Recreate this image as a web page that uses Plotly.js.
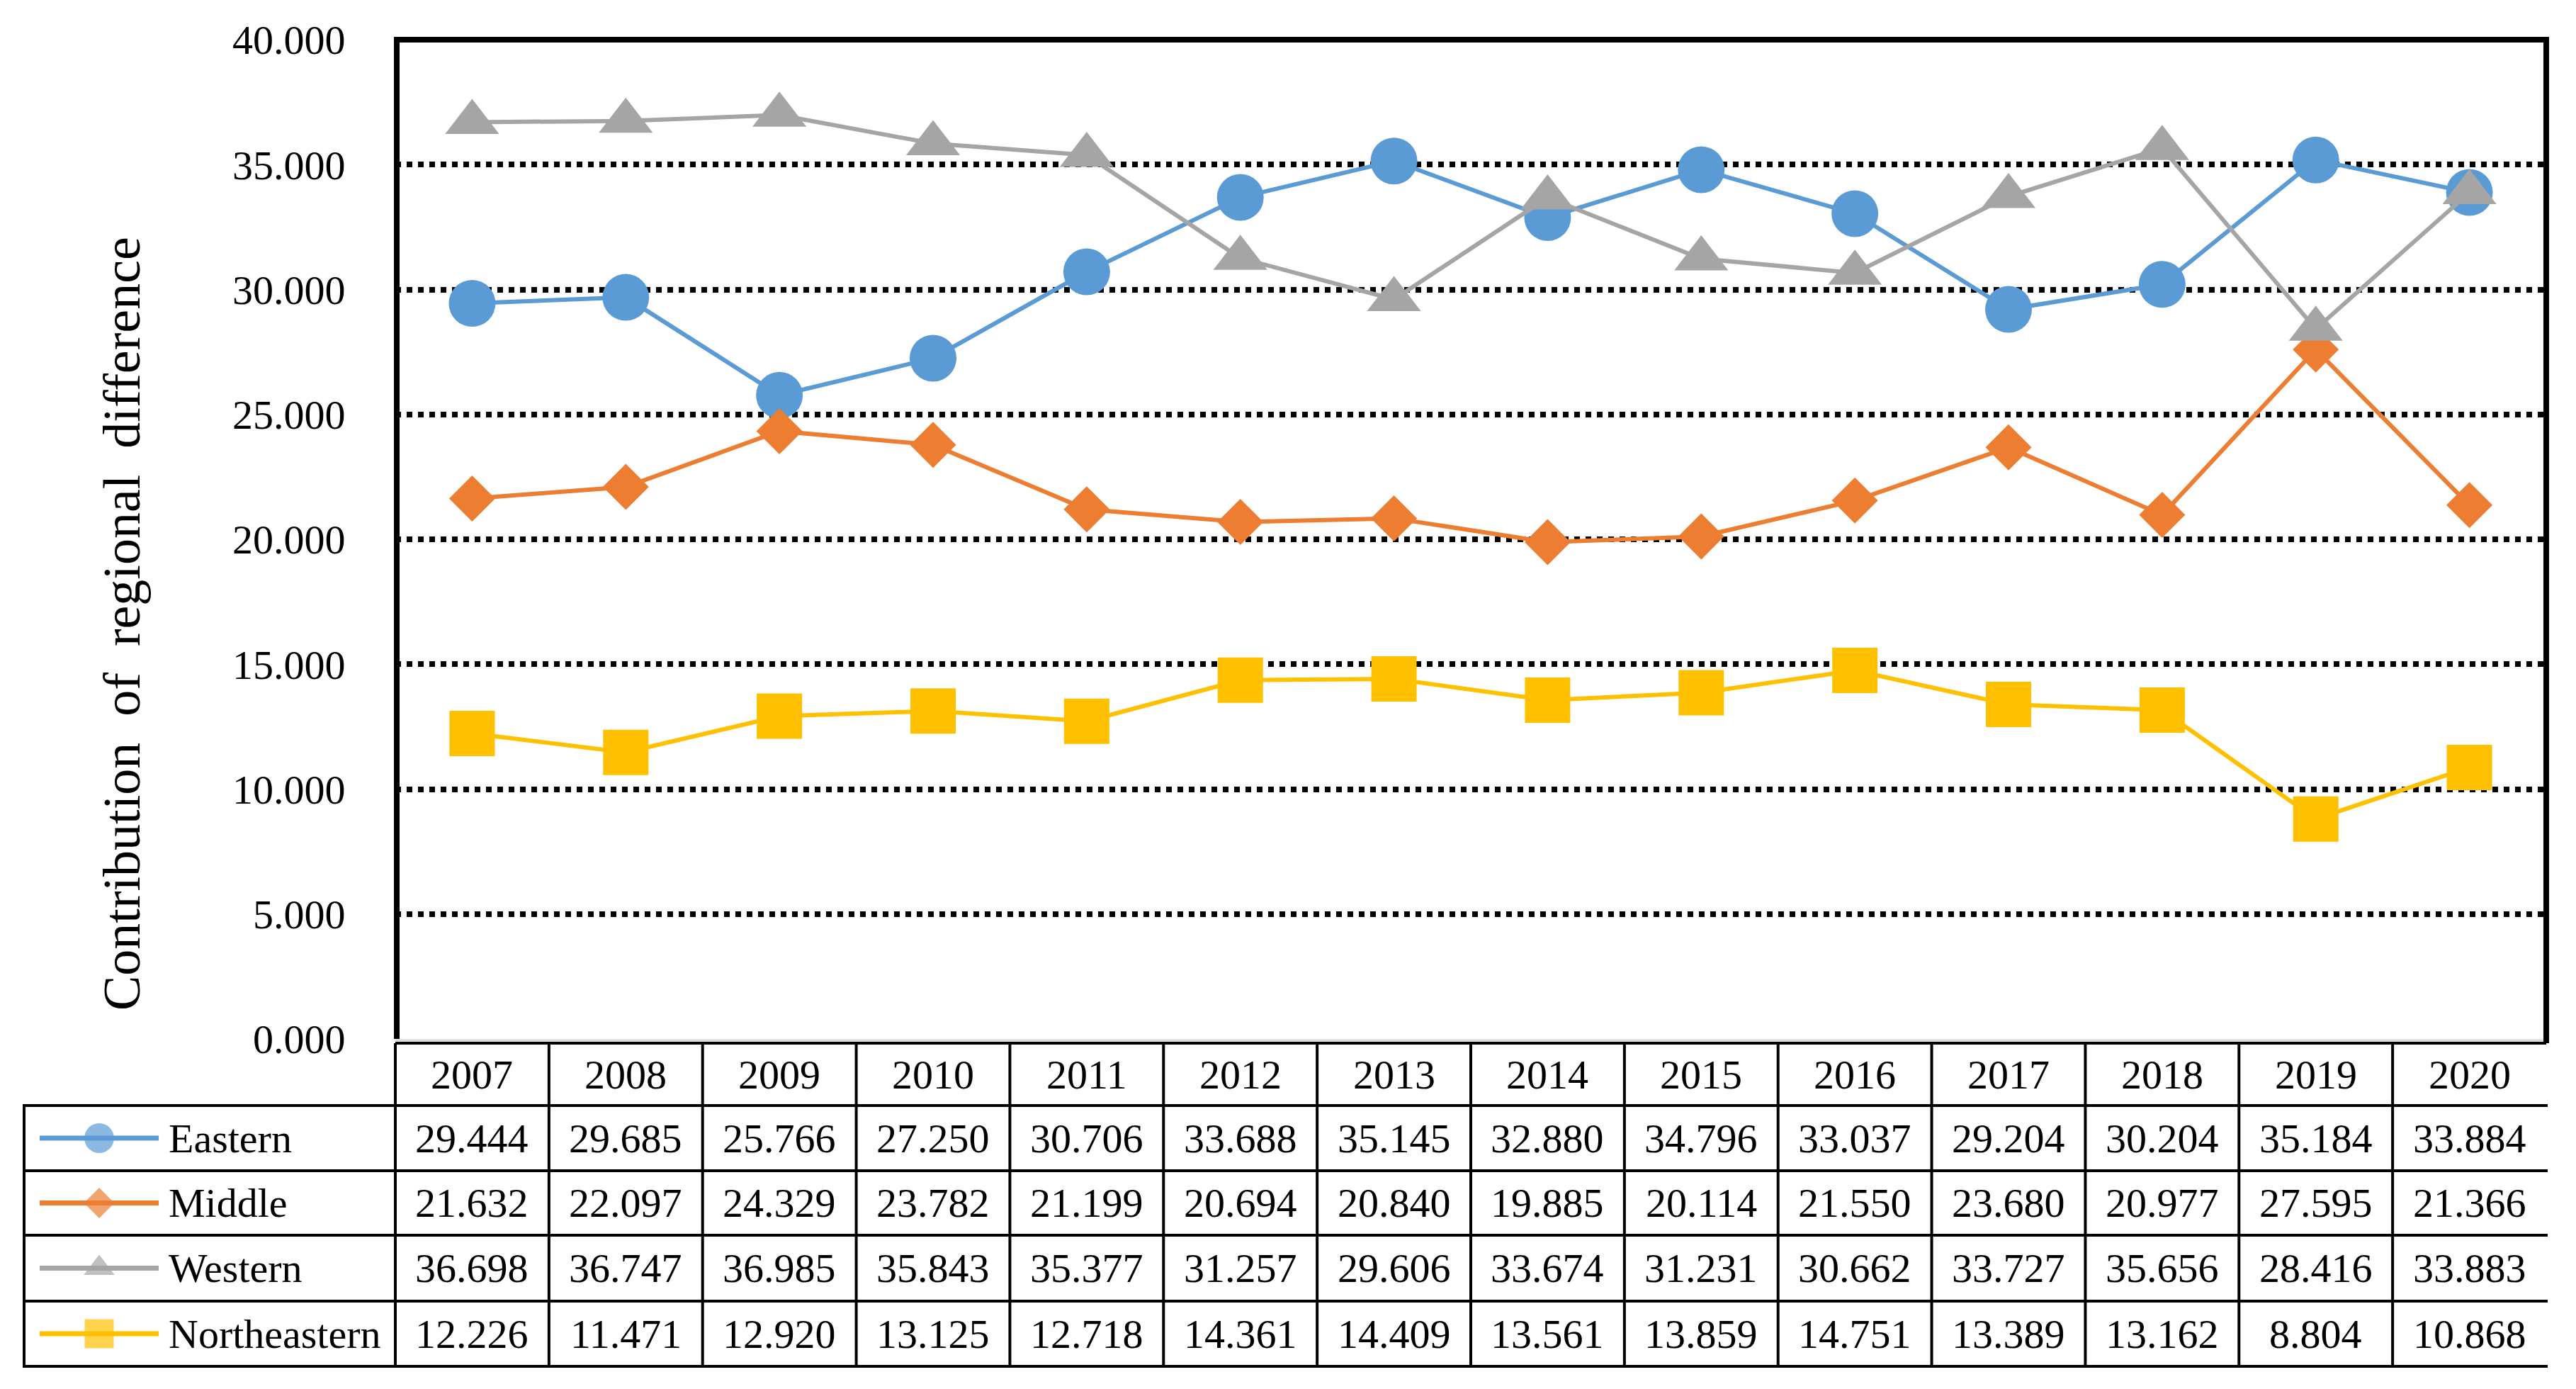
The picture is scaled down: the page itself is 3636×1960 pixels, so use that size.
<!DOCTYPE html>
<html>
<head>
<meta charset="utf-8">
<script src="https://cdn.plot.ly/plotly-3.0.1.min.js"></script>
<style>html,body{margin:0;padding:0;background:#fff;}#chart{width:3636px;height:1960px;}</style>
</head>
<body>
<div id="chart"></div>
<script>
// ---- data ----
const years = ['2007','2008','2009','2010','2011','2012','2013','2014','2015','2016','2017','2018','2019','2020'];
const seriesNames = ['Eastern','Middle','Western','Northeastern'];
const eastern = [29.444, 29.685, 25.766, 27.250, 30.706, 33.688, 35.145, 32.880, 34.796, 33.037, 29.204, 30.204, 35.184, 33.884];
const middle = [21.632, 22.097, 24.329, 23.782, 21.199, 20.694, 20.840, 19.885, 20.114, 21.550, 23.680, 20.977, 27.595, 21.366];
const western = [36.698, 36.747, 36.985, 35.843, 35.377, 31.257, 29.606, 33.674, 31.231, 30.662, 33.727, 35.656, 28.416, 33.883];
const northeastern = [12.226, 11.471, 12.920, 13.125, 12.718, 14.361, 14.409, 13.561, 13.859, 14.751, 13.389, 13.162, 8.804, 10.868];
const yTicks = [0, 5, 10, 15, 20, 25, 30, 35, 40];
const yTitle = 'Contribution\u00a0\u00a0of\u00a0\u00a0regional\u00a0\u00a0difference';

// ---- styles / layout constants ----
const W = 3636, H = 1960;
const FONT = '"Liberation Serif"';
const styles = [
  {color: '#5B9BD5', symbol: 'circle', size: 66, keySize: 42},
  {color: '#ED7D31', symbol: 'diamond', size: 50, keySize: 33},
  {color: '#A5A5A5', symbol: 'triangle-up', size: 66, keySize: 38},
  {color: '#FFC000', symbol: 'square', size: 64, keySize: 41}
];
const values = [eastern, middle, western, northeastern];
const plotL = 558, plotR = 3594, plotT = 56, plotB = 1466;
const tableTop = 1472, headerBot = 1560;
const rowLines = [1560, 1652, 1743, 1836, 1928];
const tableLeft = 34, keyL = 56, keyR = 224, labelX = 236;
const px = v => v / W;
const py = v => 1 - v / H;

const data = [];
values.forEach((vals, s) => {
  data.push({
    type: 'scatter', mode: 'lines+markers', name: seriesNames[s],
    x: years, y: vals, xaxis: 'x', yaxis: 'y',
    line: {color: styles[s].color, width: 6},
    marker: {color: styles[s].color, symbol: styles[s].symbol, size: styles[s].size, line: {width: 0}},
    showlegend: false, hoverinfo: 'skip', cliponaxis: false
  });
});
// legend keys in the table's first column
values.forEach((vals, s) => {
  const c = (rowLines[s] + rowLines[s + 1]) / 2;
  data.push({
    type: 'scatter', mode: 'lines+markers', xaxis: 'x2', yaxis: 'y2',
    x: [0, 1, 2], y: [c, c, c],
    line: {color: styles[s].color, width: 7},
    marker: {color: styles[s].color, symbol: styles[s].symbol, size: [0, styles[s].keySize, 0], line: {width: 0}},
    showlegend: false, hoverinfo: 'skip', cliponaxis: false
  });
});

const shapes = [];
const line = (x0, y0, x1, y1, w, color, xref, yref) => shapes.push({
  type: 'line', layer: 'above', xref: xref || 'paper', yref: yref || 'paper',
  x0: x0, y0: y0, x1: x1, y1: y1, line: {color: color || '#000', width: w}
});
// hide the grid line at 0
shapes.push({type: 'rect', layer: 'above', xref: 'paper', yref: 'paper',
  x0: px(plotL + 4), x1: px(plotR - 4), y0: py(1471), y1: py(1460), fillcolor: '#fff', line: {width: 0}});
line(px(plotL), py(1468), px(plotR), py(1468), 3, '#d9d9d9');
// plot frame
line(px(plotL + 2), py(plotT - 4), px(plotL + 2), py(plotB), 8);
line(px(plotL - 2), py(plotT), px(plotR + 4), py(plotT), 8);
line(px(plotR), py(plotT - 4), px(plotR), py(tableTop), 8);
// table horizontal lines
line(px(plotL), py(tableTop), px(plotR), py(tableTop), 4);
rowLines.forEach(r => line(px(tableLeft), py(r), px(plotR + 2), py(r), 4));
// table vertical lines
line(px(tableLeft), py(headerBot - 2), px(tableLeft), py(rowLines[4] + 2), 4);
line(px(plotL), py(tableTop), px(plotL), py(rowLines[4] + 2), 4);
for (let k = 1; k < years.length; k++) {
  shapes.push({type: 'line', layer: 'above', xref: 'x', yref: 'paper',
    x0: k - 0.5, x1: k - 0.5, y0: py(tableTop), y1: py(rowLines[4]), line: {color: '#000', width: 4}});
}

const annotations = [];
const tfont = {family: FONT, size: 58, color: '#000'};
years.forEach((yr, i) => {
  annotations.push({xref: 'x', yref: 'paper', x: i, y: py((tableTop + headerBot) / 2),
    text: yr, showarrow: false, xanchor: 'center', yanchor: 'middle', font: tfont});
  values.forEach((vals, s) => {
    annotations.push({xref: 'x', yref: 'paper', x: i, y: py((rowLines[s] + rowLines[s + 1]) / 2),
      text: vals[i].toFixed(3), showarrow: false, xanchor: 'center', yanchor: 'middle', font: tfont});
  });
});
seriesNames.forEach((n, s) => {
  annotations.push({xref: 'paper', yref: 'paper', x: px(labelX), y: py((rowLines[s] + rowLines[s + 1]) / 2),
    text: n, showarrow: false, xanchor: 'left', yanchor: 'middle', font: tfont});
});
annotations.push({xref: 'paper', yref: 'paper', x: px(172), y: py(880), text: yTitle, textangle: -90,
  showarrow: false, xanchor: 'center', yanchor: 'middle', font: {family: FONT, size: 74, color: '#000'}});

const layout = {
  width: W, height: H,
  font: {family: FONT, color: '#000'},
  margin: {l: 0, r: 0, t: 0, b: 0, pad: 0},
  paper_bgcolor: '#fff', plot_bgcolor: '#fff',
  showlegend: false,
  xaxis: {domain: [px(plotL), px(plotR)], range: [-0.5, years.length - 0.5], type: 'category',
    showgrid: false, zeroline: false, showline: false, showticklabels: false, ticks: ''},
  yaxis: {domain: [py(plotB), py(plotT)], range: [0, 40], tickvals: yTicks,
    ticktext: yTicks.map(v => v.toFixed(3)), showgrid: true, gridcolor: '#000', gridwidth: 8, griddash: 'dot',
    zeroline: false, showline: false, ticks: 'outside', ticklen: 58, tickcolor: 'rgba(0,0,0,0)',
    tickfont: {family: FONT, size: 58, color: '#000'}},
  xaxis2: {domain: [px(keyL), px(keyR)], range: [0, 2], visible: false, anchor: 'y2'},
  yaxis2: {domain: [0, 1], range: [H, 0], visible: false, anchor: 'x2'},
  shapes: shapes,
  annotations: annotations
};

Plotly.newPlot('chart', data, layout, {staticPlot: true});
</script>
</body>
</html>
